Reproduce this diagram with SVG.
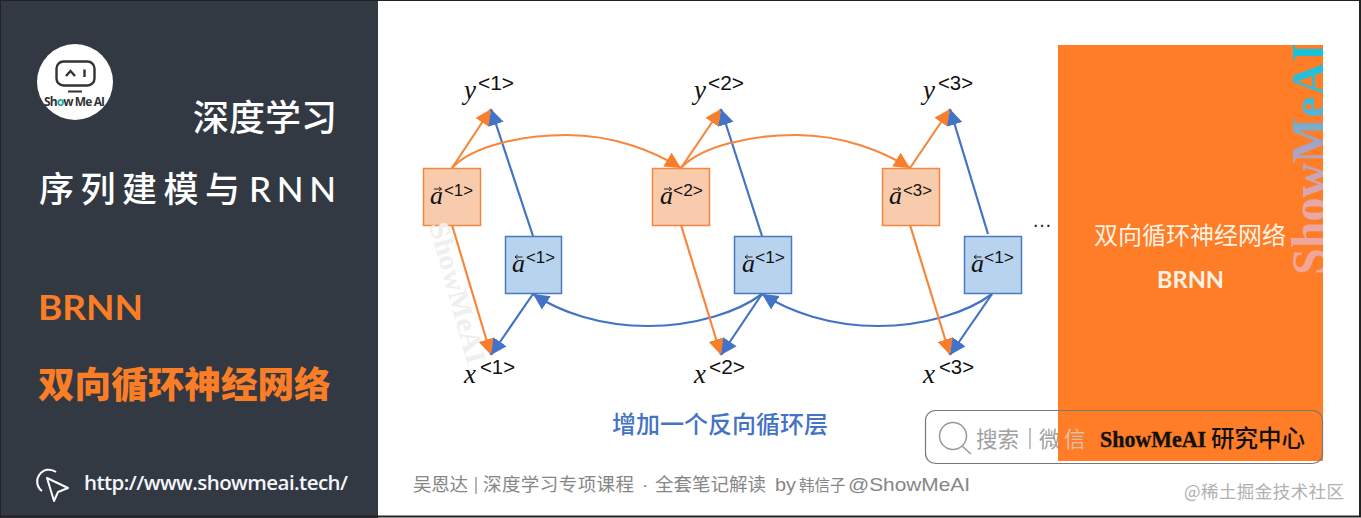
<svg xmlns="http://www.w3.org/2000/svg" width="1361" height="518" viewBox="0 0 1361 518">
<style>
.cjk{font-family:"Noto Sans CJK SC","Noto Sans",sans-serif}
.lat{font-family:Lato,"Noto Sans",sans-serif}
.ser{font-family:"Liberation Serif",serif}
.var{font-family:"Liberation Serif",serif;font-style:italic;fill:#111}
.sup{font-family:"Liberation Sans",sans-serif;fill:#111}
.or{fill:#f8cbad;stroke:#f4873f;stroke-width:1.5}
.bl{fill:#b8d3ee;stroke:#4a78c4;stroke-width:1.5}
.lo{fill:none;stroke:#f6873c;stroke-width:2.2;marker-end:url(#mo)}
.lb{fill:none;stroke:#4472c4;stroke-width:2.2;marker-end:url(#mb)}
.vec{fill:none;stroke:#222;stroke-width:1}
.ft{font-size:18.500px;fill:#868686}
.fl{font-family:"Liberation Sans",sans-serif;font-size:19px;fill:#868686}
</style>
<defs>
<marker id="mo" markerUnits="userSpaceOnUse" markerWidth="18" markerHeight="18" refX="16" refY="9" orient="auto"><path d="M0,1L16,9L0,17Z" fill="#f97e2b"/></marker>
<marker id="mb" markerUnits="userSpaceOnUse" markerWidth="18" markerHeight="18" refX="16" refY="9" orient="auto"><path d="M0,1L16,9L0,17Z" fill="#4472c4"/></marker>
<linearGradient id="wg" gradientUnits="userSpaceOnUse" x1="0" y1="0" x2="232" y2="0">
<stop offset="0" stop-color="#f4a594"/><stop offset=".3" stop-color="#e6a8a8"/><stop offset=".55" stop-color="#a9a3c4"/><stop offset=".75" stop-color="#3fb9d4"/><stop offset="1" stop-color="#10c4da"/>
</linearGradient>
<clipPath id="wc"><rect x="1290" y="40" width="33" height="240"/></clipPath>
</defs>
<rect x="0" y="0" width="1361" height="518" fill="#fff"/>
<g id="sidebar">
<rect x="0" y="0" width="378" height="518" fill="#323943"/>
<text class="cjk" x="193" y="131" font-size="36" font-weight="500" fill="#fff" textLength="144">深度学习</text>
<text class="cjk" x="39" y="202" font-size="35" font-weight="500" fill="#fff" letter-spacing="6.500">序列建模与</text>
<text class="lat" x="249" y="202" font-size="35" font-weight="500" fill="#fff" textLength="87" lengthAdjust="spacing">RNN</text>
<text class="lat" x="38" y="320" font-size="35" font-weight="700" fill="#fb7d26" textLength="105" lengthAdjust="spacingAndGlyphs">BRNN</text>
<text class="cjk" x="38" y="398" font-size="36.600" font-weight="900" fill="#fb7d26">双向循环神经网络</text>
<text x="84" y="490" font-family="'Open Sans',sans-serif" font-size="20.500" font-weight="600" fill="#f4f6fa" textLength="264">http://www.showmeai.tech/</text>
</g>
<g id="logo">
<circle cx="75" cy="82" r="38" fill="#fff"/>
<rect x="56.500" y="61.500" width="38" height="24" rx="7" fill="none" stroke="#333" stroke-width="2.400"/>
<path d="M66,76L70.500,71L75,76M84.500,69.500V77" fill="none" stroke="#333" stroke-width="2.400"/>
<path d="M68,91.500H82" stroke="#333" stroke-width="2"/>
<text x="44" y="106" font-family="'Open Sans',sans-serif" font-size="12" font-weight="700" fill="#333" textLength="61">Sh<tspan fill="#17a3a3">o</tspan>w Me AI</text>
</g>
<g id="cursor-icon" fill="none" stroke="#fff" stroke-width="2">
<path d="M42,491A10,10 0 1 1 56,472"/>
<path d="M47,478L68,488L58,492L54,501Z" stroke-linejoin="round"/>
</g>
<g id="connectors">
<path class="lo" d="M452,168L491,109"/>
<path class="lb" d="M533,236L491,109"/>
<path class="lo" d="M452,225L491,355"/>
<path class="lb" d="M533,294L491,355"/>
<path class="lo" d="M452,168C472,146 522,135 567,135C615,135 655,152 681,168"/>
<path class="lb" d="M762,294C738,312 695,326 648,326C600,326 560,312 533,294"/>
<path class="lo" d="M681,168L721,109"/>
<path class="lb" d="M762,236L721,109"/>
<path class="lo" d="M681,225L721,355"/>
<path class="lb" d="M762,294L721,355"/>
<path class="lo" d="M681,168C701,146 751,135 796,135C844,135 884,152 910,168"/>
<path class="lb" d="M992,294C968,312 925,326 878,326C830,326 790,312 762,294"/>
<path class="lo" d="M910,168L950,109"/>
<path class="lb" d="M988,234L950,109"/>
<path class="lo" d="M910,225L950,355"/>
<path class="lb" d="M992,294L950,355"/>
</g>
<g id="a1"><rect class="or" x="423.500" y="168.500" width="57" height="57"/><text class="var" x="430" y="204" font-size="26">a</text><path class="vec" d="M434,189H441.500M439,187L441.500,189L439,191"/><text class="sup" x="444" y="196" font-size="16" textLength="29" lengthAdjust="spacingAndGlyphs">&lt;1&gt;</text></g>
<g id="a2"><rect class="or" x="652.500" y="168.500" width="57" height="57"/><text class="var" x="660" y="204" font-size="26">a</text><path class="vec" d="M664,189H671.500M669,187L671.500,189L669,191"/><text class="sup" x="673" y="196" font-size="16" textLength="30" lengthAdjust="spacingAndGlyphs">&lt;2&gt;</text></g>
<g id="a3"><rect class="or" x="882.500" y="168.500" width="57" height="57"/><text class="var" x="889" y="204" font-size="26">a</text><path class="vec" d="M893,189H900.500M898,187L900.500,189L898,191"/><text class="sup" x="903" y="196" font-size="16" textLength="29" lengthAdjust="spacingAndGlyphs">&lt;3&gt;</text></g>
<g id="b1"><rect class="bl" x="505.500" y="236.500" width="56" height="57"/><text class="var" x="512" y="272" font-size="26">a</text><path class="vec" d="M515,257H522.500M517.500,255L515,257L517.500,259"/><text class="sup" x="526" y="263" font-size="16" textLength="29" lengthAdjust="spacingAndGlyphs">&lt;1&gt;</text></g>
<g id="b2"><rect class="bl" x="734.500" y="236.500" width="57" height="57"/><text class="var" x="742" y="272" font-size="26">a</text><path class="vec" d="M745,257H752.500M747.500,255L745,257L747.500,259"/><text class="sup" x="755" y="263" font-size="16" textLength="30" lengthAdjust="spacingAndGlyphs">&lt;1&gt;</text></g>
<g id="b3"><rect class="bl" x="964.500" y="236.500" width="57" height="57"/><text class="var" x="971" y="272" font-size="26">a</text><path class="vec" d="M974,257H981.500M976.500,255L974,257L976.500,259"/><text class="sup" x="984" y="263" font-size="16" textLength="30" lengthAdjust="spacingAndGlyphs">&lt;1&gt;</text></g>
<g id="y1"><text class="var" x="464" y="99" font-size="27">y</text><text class="sup" x="478" y="90" font-size="20" textLength="36" lengthAdjust="spacingAndGlyphs">&lt;1&gt;</text></g>
<g id="y2"><text class="var" x="694" y="99" font-size="27">y</text><text class="sup" x="708" y="90" font-size="20" textLength="36" lengthAdjust="spacingAndGlyphs">&lt;2&gt;</text></g>
<g id="y3"><text class="var" x="923" y="99" font-size="27">y</text><text class="sup" x="938" y="90" font-size="20" textLength="35" lengthAdjust="spacingAndGlyphs">&lt;3&gt;</text></g>
<g id="x1"><text class="var" x="464" y="383" font-size="27">x</text><text class="sup" x="480" y="374" font-size="20" textLength="35" lengthAdjust="spacingAndGlyphs">&lt;1&gt;</text></g>
<g id="x2"><text class="var" x="694" y="383" font-size="27">x</text><text class="sup" x="709" y="374" font-size="20" textLength="36" lengthAdjust="spacingAndGlyphs">&lt;2&gt;</text></g>
<g id="x3"><text class="var" x="923" y="383" font-size="27">x</text><text class="sup" x="939" y="374" font-size="20" textLength="35" lengthAdjust="spacingAndGlyphs">&lt;3&gt;</text></g>
<text id="dots" x="1032" y="227" font-family="'Liberation Sans',sans-serif" font-size="20" fill="#222" textLength="20">…</text>
<text id="mark-left" class="ser" transform="translate(429,225) rotate(74.500)" font-size="28" font-weight="700" fill="#efefef" textLength="146" lengthAdjust="spacingAndGlyphs">ShowMeAI</text>
<text id="caption" class="cjk" x="612" y="433" font-size="24" font-weight="500" fill="#4472c4">增加一个反向循环层</text>
<g id="search-left">
<circle cx="953" cy="436" r="13.500" fill="none" stroke="#999" stroke-width="1.500"/>
<path d="M962,446L971,454" stroke="#999" stroke-width="1.500"/>
<text class="cjk" x="976" y="447" font-size="21.500" fill="#a0a0a0">搜索</text>
<path d="M1030,428V449" stroke="#a0a0a0" stroke-width="1.300"/>
<text class="cjk" x="1039" y="447" font-size="21.500" fill="#a0a0a0">微</text>
</g>
<g id="panel">
<rect x="1058" y="45" width="265" height="416" fill="#ff7d27"/>
<text class="cjk" x="1094" y="244" font-size="24" fill="#fdf2e4">双向循环神经网络</text>
<text class="lat" x="1157" y="288" font-size="23" font-weight="700" fill="#fdf2e4" textLength="67" lengthAdjust="spacingAndGlyphs">BRNN</text>
</g>
<g id="mark-right" clip-path="url(#wc)"><text class="ser" transform="translate(1326,275) rotate(-90)" font-size="50" font-weight="700" fill="url(#wg)" textLength="232" lengthAdjust="spacingAndGlyphs">ShowMeAI</text></g>
<g id="search-right">
<rect x="925.500" y="410.500" width="397" height="53" rx="10" fill="none" stroke="#777" stroke-width="1.200"/>
<text class="cjk" x="1064" y="447" font-size="21.500" fill="#dcc0a8">信</text>
<text class="ser" x="1100" y="446.500" font-size="23" font-weight="700" fill="#111" stroke="#111" stroke-width=".4" textLength="106" lengthAdjust="spacingAndGlyphs">ShowMeAI</text>
<text class="cjk" x="1211" y="447" font-size="23.500" font-weight="500" fill="#111">研究中心</text>
</g>
<g id="footer">
<text class="cjk ft" x="413" y="491" textLength="55">吴恩达</text>
<path d="M476,477V494" stroke="#868686" stroke-width="1.200"/>
<text class="cjk ft" x="483" y="491" textLength="151">深度学习专项课程</text>
<text class="fl" x="642" y="491">·</text>
<text class="cjk ft" x="655" y="491" textLength="111">全套笔记解读</text>
<text class="fl" x="775" y="491" textLength="21" lengthAdjust="spacingAndGlyphs">by</text>
<text class="cjk" x="799" y="491" font-size="15.500" fill="#868686">韩信子</text>
<text class="fl" x="848" y="491" textLength="122" lengthAdjust="spacingAndGlyphs">@ShowMeAI</text>
<text class="cjk" x="1184" y="498" font-size="17.500" fill="#b0b0b0" textLength="160">@稀土掘金技术社区</text>
</g>
<rect id="frame" x="0" y="0" width="1360" height="516.500" fill="none" stroke="#222" stroke-width="2"/>
</svg>
